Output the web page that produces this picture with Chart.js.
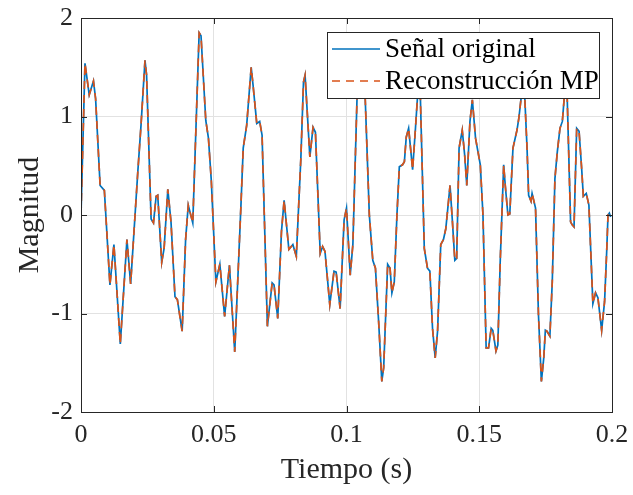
<!DOCTYPE html>
<html lang="es">
<head>
    <meta charset="UTF-8">
    <title>Señal original vs Reconstrucción MP</title>
    <script src="https://cdn.jsdelivr.net/npm/chart.js"></script>
    <style>
        html, body { margin: 0; padding: 0; background: #ffffff; }
        #wrap { width: 633px; height: 495px; }
    </style>
</head>
<body>
    <div id="wrap"><canvas id="signalChart" width="633" height="495"></canvas></div>

    <script>
        // Time instants (s) at the vertices of the curve
        const tiempo = [
            0.0000, 0.0015, 0.0031, 0.0047, 0.0055, 0.0072, 0.0088, 0.0109, 0.0124, 0.0148,
            0.0173, 0.0187, 0.0214, 0.0226, 0.0241, 0.0247, 0.0264, 0.0273, 0.0283, 0.0289,
            0.0304, 0.0313, 0.0327, 0.0339, 0.0354, 0.0363, 0.0381, 0.0394, 0.0404, 0.0421,
            0.0445, 0.0452, 0.0470, 0.0480, 0.0491, 0.0508, 0.0523, 0.0541, 0.0559, 0.0579,
            0.0602, 0.0611, 0.0624, 0.0641, 0.0648, 0.0662, 0.0673, 0.0682, 0.0702, 0.0720,
            0.0727, 0.0741, 0.0755, 0.0765, 0.0783, 0.0798, 0.0811, 0.0828, 0.0838, 0.0844,
            0.0862, 0.0874, 0.0883, 0.0901, 0.0910, 0.0919, 0.0937, 0.0953, 0.0961, 0.0976,
            0.0991, 0.1000, 0.1014, 0.1024, 0.1040, 0.1050, 0.1070, 0.1086, 0.1099, 0.1109,
            0.1121, 0.1133, 0.1140, 0.1155, 0.1164, 0.1171, 0.1180, 0.1190, 0.1199, 0.1211,
            0.1218, 0.1225, 0.1234, 0.1249, 0.1259, 0.1268, 0.1273, 0.1278, 0.1293, 0.1305,
            0.1314, 0.1324, 0.1334, 0.1343, 0.1355, 0.1365, 0.1374, 0.1390, 0.1399, 0.1408,
            0.1415, 0.1424, 0.1436, 0.1445, 0.1453, 0.1465, 0.1474, 0.1486, 0.1504, 0.1514,
            0.1526, 0.1535, 0.1545, 0.1551, 0.1563, 0.1570, 0.1579, 0.1592, 0.1598, 0.1608,
            0.1615, 0.1627, 0.1642, 0.1649, 0.1659, 0.1665, 0.1671, 0.1680, 0.1686, 0.1695,
            0.1699, 0.1712, 0.1723, 0.1734, 0.1743, 0.1749, 0.1755, 0.1766, 0.1775, 0.1785,
            0.1794, 0.1804, 0.1813, 0.1821, 0.1826, 0.1831, 0.1844, 0.1850, 0.1857, 0.1867,
            0.1876, 0.1886, 0.1892, 0.1903, 0.1913, 0.1928, 0.1938, 0.1947, 0.1961, 0.1972,
            0.1980, 0.1985, 0.1990, 0.1995
        ];

        // Magnitude of the original signal at those instants
        const senalOriginal = [
            0.00, 1.54, 1.22, 1.36, 1.18, 0.30, 0.25, -0.71, -0.30, -1.31,
            -0.25, -0.70, 0.44, 0.91, 1.57, 1.42, -0.04, -0.08, 0.19, 0.20,
            -0.48, -0.34, 0.26, -0.07, -0.83, -0.86, -1.18, -0.25, 0.10, -0.08,
            1.85, 1.82, 0.96, 0.78, 0.34, -0.68, -0.50, -1.03, -0.51, -1.39,
            0.07, 0.68, 0.91, 1.50, 1.32, 0.93, 0.95, 0.81, -1.13, -0.69,
            -0.71, -1.05, -0.17, 0.15, -0.35, -0.30, -0.42, 0.57, 1.35, 1.42,
            0.59, 0.89, 0.84, -0.39, -0.32, -0.37, -0.91, -0.57, -0.58, -0.95,
            -0.05, 0.07, -0.61, -0.30, 1.22, 1.75, 1.22, 0.00, -0.46, -0.54,
            -1.08, -1.69, -1.55, -0.50, -0.54, -0.79, -0.68, 0.00, 0.49, 0.51,
            0.54, 0.79, 0.88, 0.46, 0.85, 1.22, 1.65, 1.22, -0.34, -0.54,
            -0.57, -1.15, -1.45, -1.18, -0.30, -0.25, -0.14, 0.30, -0.07, -0.46,
            -0.44, 0.68, 0.86, 0.61, 0.30, 0.95, 1.17, 0.78, 0.51, 0.00,
            -1.35, -1.35, -1.15, -1.17, -1.38, -1.32, -0.47, 0.51, 0.30, 0.00,
            0.01, 0.68, 0.86, 0.98, 1.22, 1.55, 1.22, 0.68, 0.20, 0.14,
            0.22, 0.07, -1.01, -1.69, -1.45, -1.17, -1.18, -1.23, -0.68, 0.37,
            0.64, 0.88, 0.95, 1.22, 1.45, 1.22, -0.07, -0.10, -0.12, 0.88,
            0.85, 0.46, 0.19, 0.22, 0.10, -0.90, -0.79, -0.84, -1.17, -0.88,
            -0.37, 0.00, 0.02, -0.02
        ];

        // The MP reconstruction lies on top of the original everywhere in the plot
        const reconstruccionMP = senalOriginal.slice();

        const xTicks = [0, 0.05, 0.1, 0.15, 0.2];
        const xTickLabels = ['0', '0.05', '0.1', '0.15', '0.2'];
        const yTicks = [-2, -1, 0, 1, 2];
        const yTickLabels = ['-2', '-1', '0', '1', '2'];

        const FONT = "'Liberation Serif', 'Times New Roman', serif";
        const INK = '#262626';
        const BLUE = '#0072BD';
        const ORANGE = '#D95319';

        const toPoints = (xs, ys) => xs.map((x, i) => ({ x: x, y: ys[i] }));

        // MATLAB-like axes box with inward ticks, plus the boxed legend
        const boxPlugin = {
            id: 'matlabBox',
            afterDraw(chart) {
                const { ctx, chartArea: a, scales } = chart;
                ctx.save();
                ctx.strokeStyle = INK;
                ctx.lineWidth = 1;
                const tl = 6;
                ctx.beginPath();
                xTicks.forEach(v => {
                    const px = Math.round(scales.x.getPixelForValue(v)) + 0.5;
                    ctx.moveTo(px, a.bottom); ctx.lineTo(px, a.bottom - tl);
                    ctx.moveTo(px, a.top); ctx.lineTo(px, a.top + tl);
                });
                yTicks.forEach(v => {
                    const py = Math.round(scales.y.getPixelForValue(v)) + 0.5;
                    ctx.moveTo(a.left, py); ctx.lineTo(a.left + tl, py);
                    ctx.moveTo(a.right, py); ctx.lineTo(a.right - tl, py);
                });
                ctx.stroke();
                ctx.strokeRect(Math.round(a.left) + 0.5, Math.round(a.top) + 0.5,
                    Math.round(a.right - a.left), Math.round(a.bottom - a.top));

                // legend
                const lx = 327, ly = 32, lw = 272, lh = 66;
                ctx.fillStyle = '#ffffff';
                ctx.fillRect(lx, ly, lw, lh);
                ctx.strokeRect(lx + 0.5, ly + 0.5, lw, lh);
                const rows = [ly + 17, ly + 49];
                chart.data.datasets.slice().sort((p, q) => p.legendIndex - q.legendIndex).forEach((ds, i) => {
                    ctx.beginPath();
                    ctx.strokeStyle = ds.borderColor;
                    ctx.lineWidth = 1.6;
                    ctx.setLineDash(ds.borderDash || []);
                    ctx.moveTo(lx + 5, rows[i]);
                    ctx.lineTo(lx + 53, rows[i]);
                    ctx.stroke();
                    ctx.setLineDash([]);
                    ctx.fillStyle = '#000000';
                    ctx.font = '27px ' + FONT;
                    ctx.textBaseline = 'middle';
                    ctx.fillText(ds.label, lx + 58, rows[i] + 1);
                });
                ctx.restore();
            }
        };

        const ctx = document.getElementById('signalChart').getContext('2d');
        const signalChart = new Chart(ctx, {
            type: 'line',
            data: {
                datasets: [
                    {
                        label: 'Señal original',
                        legendIndex: 0,
                        order: 1,
                        data: toPoints(tiempo, senalOriginal),
                        borderColor: BLUE,
                        borderWidth: 1.7,
                        pointRadius: 0,
                        tension: 0,
                        fill: false
                    },
                    {
                        label: 'Reconstrucción MP',
                        legendIndex: 1,
                        order: 0,
                        data: toPoints(tiempo, reconstruccionMP),
                        borderColor: ORANGE,
                        borderDash: [8, 6],
                        borderWidth: 1.7,
                        pointRadius: 0,
                        tension: 0,
                        fill: false
                    }
                ]
            },
            options: {
                responsive: false,
                animation: false,
                layout: { padding: { left: 0, right: 21, top: 18, bottom: 0 } },
                plugins: {
                    legend: { display: false },
                    tooltip: { enabled: false }
                },
                scales: {
                    x: {
                        type: 'linear',
                        min: 0,
                        max: 0.2,
                        afterBuildTicks: s => { s.ticks = xTicks.map(v => ({ value: v })); },
                        afterFit: s => { s.height = 83; s.paddingLeft = 0; s.paddingRight = 0; },
                        ticks: {
                            callback: (v, i) => xTickLabels[i],
                            color: INK,
                            font: { family: FONT, size: 26 },
                            padding: 8,
                            maxRotation: 0,
                            autoSkip: false
                        },
                        grid: { color: '#e2e2e2', drawTicks: false },
                        border: { display: false },
                        title: {
                            display: true,
                            text: 'Tiempo (s)',
                            color: INK,
                            font: { family: FONT, size: 30 },
                            padding: { top: 0, bottom: 7 }
                        }
                    },
                    y: {
                        min: -2,
                        max: 2,
                        afterBuildTicks: s => { s.ticks = yTicks.map(v => ({ value: v })); },
                        afterFit: s => { s.width = 81; s.paddingTop = 0; s.paddingBottom = 0; },
                        ticks: {
                            callback: (v, i) => yTickLabels[i],
                            color: INK,
                            font: { family: FONT, size: 26 },
                            padding: 8
                        },
                        grid: { color: '#e2e2e2', drawTicks: false },
                        border: { display: false },
                        title: {
                            display: true,
                            text: 'Magnitud',
                            color: INK,
                            font: { family: FONT, size: 30 },
                            padding: { top: 12, bottom: 4 }
                        }
                    }
                }
            },
            plugins: [boxPlugin]
        });
    </script>
</body>
</html>
